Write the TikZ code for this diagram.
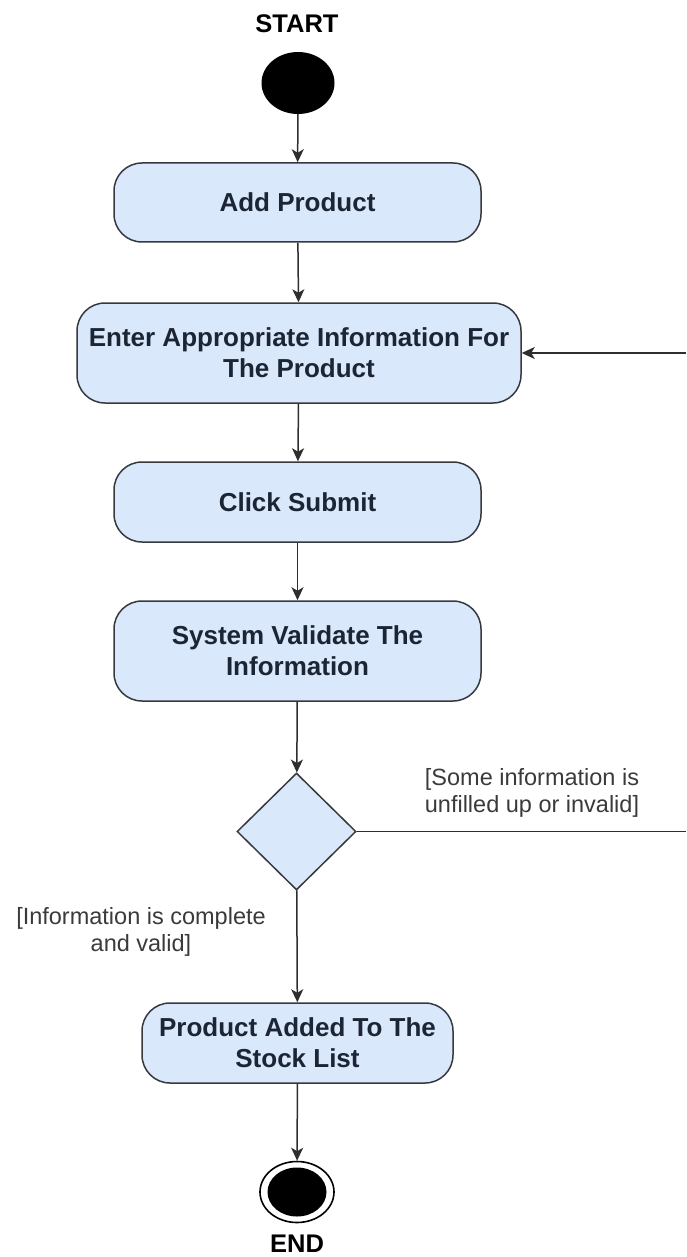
\documentclass[tikz,border=0pt]{standalone}
\usepackage{fontspec}
\setmainfont{Liberation Sans}
\usetikzlibrary{arrows.meta,shapes.geometric}
\definecolor{actfill}{HTML}{DAE8FC}
\definecolor{actline}{HTML}{36393D}
\definecolor{acttext}{HTML}{1C2533}
\definecolor{guardtext}{HTML}{3A3A3A}
\definecolor{flowline}{HTML}{2E2E2E}
\tikzset{
  activity/.style={draw=actline, fill=actfill, line width=1.5pt, rounded corners=28pt,
    align=center, text=acttext, font=\fontsize{26}{31}\selectfont\bfseries,
    inner sep=0pt},
  decision/.style={draw=actline, fill=actfill, line width=1.5pt, diamond,
    minimum width=119pt, minimum height=117pt, inner sep=0pt},
  guard/.style={align=center, text=guardtext, font=\fontsize{23.5}{27}\selectfont},
  title/.style={text=black, font=\fontsize{25.5}{30}\selectfont\bfseries},
  flow/.style={draw=flowline, line width=1.5pt,
    -{Stealth[length=13pt,width=12pt,inset=3.5pt]}},
  plainflow/.style={draw=flowline, line width=1.5pt},
}
\begin{document}
\begin{tikzpicture}[x=1pt,y=-1pt]
  \useasboundingbox (0,0) rectangle (686,1257);

  % initial node
  \node[title] (startlbl) at (297,24) {START};
  \node[ellipse, fill=black, minimum width=73pt, minimum height=62pt, inner sep=0pt] (start) at (298,83) {};

  % actions
  \node[activity, minimum width=367pt, minimum height=79pt] (add) at (297.5,202.5) {Add Product};
  \node[activity, minimum width=444pt, minimum height=100pt] (enter) at (299,353) {Enter Appropriate Information For\\The Product};
  \node[activity, minimum width=367pt, minimum height=80pt] (submit) at (297.5,502) {Click Submit};
  \node[activity, minimum width=367pt, minimum height=100pt] (validate) at (297.5,651) {System Validate The\\Information};

  % decision
  \node[decision] (dec) at (296.5,831.5) {};
  \node[guard] (glabel1) at (532,793) {[Some information is\\unfilled up or invalid]};
  \node[guard] (glabel2) at (141,932) {[Information is complete\\and valid]};

  \node[activity, minimum width=311pt, minimum height=80pt] (added) at (297.5,1043) {Product Added To The\\Stock List};

  % final node
  \node[ellipse, draw=black, fill=white, line width=1.6pt, minimum width=74pt, minimum height=61pt, inner sep=0pt] (final) at (297,1192) {};
  \node[ellipse, fill=black, minimum width=59pt, minimum height=49pt, inner sep=0pt] (finaldot) at (final.center) {};
  \node[title] (endlbl) at (297,1244) {END};

  % loop-back coordinates at the right border
  \coordinate (loopout) at (686,831.5);
  \coordinate (loopin) at (686,353);

  % control flow
  \draw[flow] (start) -- (add);
  \draw[flow] (add) -- (enter);
  \draw[flow] (enter) -- (submit);
  \draw[flow] (submit) -- (validate);
  \draw[flow] (validate) -- (dec);
  \draw[flow] (dec) -- (added);
  \draw[flow] (added) -- (final);
  \draw[plainflow] (dec.east) -- (loopout);
  \draw[flow] (loopin) -- (enter.east);
\end{tikzpicture}
\end{document}
